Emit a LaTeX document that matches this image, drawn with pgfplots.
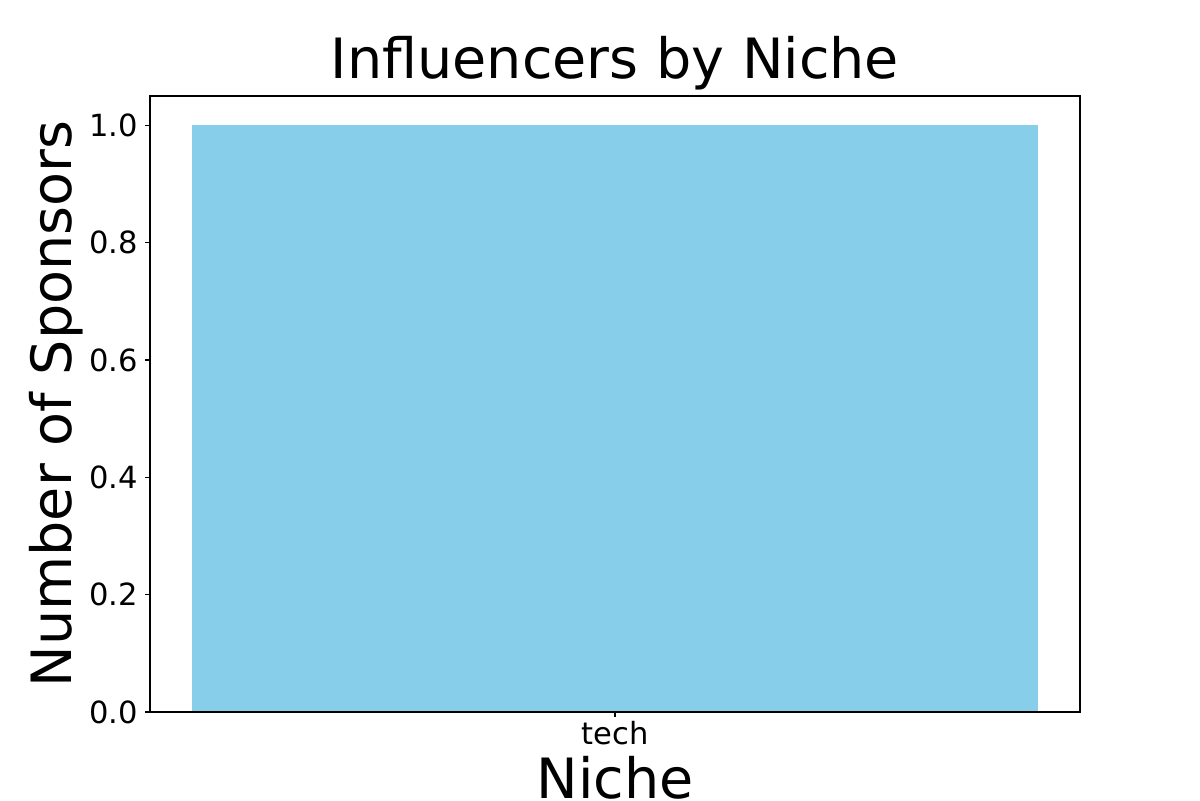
\documentclass[border=0pt]{standalone}
\usepackage{pgfplots}
\pgfplotsset{compat=1.18}
\usepackage{fontspec}
\setmainfont{DejaVu Sans}
\definecolor{skyblue}{HTML}{87CEEB}
\begin{document}
\begin{tikzpicture}
\useasboundingbox (-108pt,-63.36pt) rectangle (756pt,512.64pt);
\begin{axis}[
  at={(0,0)}, anchor=south west,
  scale only axis,
  width=669.6pt, height=443.5pt,
  xmin=-0.44, xmax=0.44,
  ymin=0, ymax=1.05,
  xtick={0}, xticklabels={tech},
  ytick={0,0.2,0.4,0.6,0.8,1.0},
  yticklabel style={xshift=-1.5pt, /pgf/number format/fixed, /pgf/number format/fixed zerofill, /pgf/number format/precision=1},
  /pgf/number format/assume math mode=true,
  tick align=outside,
  major tick length=3.5pt,
  tick style={black, line width=0.8pt},
  axis line style={line width=0.8pt},
  axis x line*=bottom, axis y line*=left,
  ticklabel style={font=\fontsize{22}{26}\selectfont},
  title={Influencers by Niche},
  title style={font=\fontsize{40}{48}\selectfont, at={(axis description cs:0.5,1)}, anchor=base, yshift=6.5pt},
  xlabel={Niche},
  xlabel style={font=\fontsize{40}{48}\selectfont, at={(axis description cs:0.5,0)}, anchor=base, yshift=-62.3pt},
  ylabel={Number of Sponsors},
  ylabel style={font=\fontsize{40}{48}\selectfont, at={(axis description cs:0,0.5)}, anchor=base, yshift=56.2pt},
]
\addplot[ybar, bar width=0.8, fill=skyblue, draw=none] coordinates {(0,1)};
\end{axis}
\draw[line width=0.8pt] (0,0) rectangle (669.6pt,443.5pt);
\end{tikzpicture}
\end{document}
